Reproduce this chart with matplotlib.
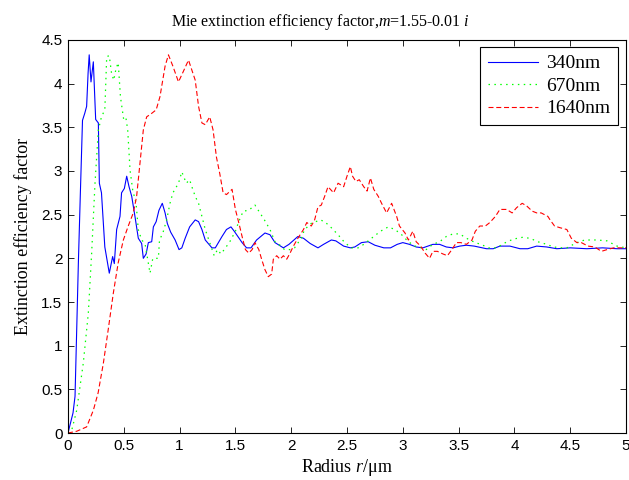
import matplotlib
matplotlib.use("Agg")
import matplotlib.pyplot as plt

# radius (um) and extinction efficiency
r_340 = [0, 0.045, 0.063, 0.078, 0.093, 0.11, 0.13, 0.15, 0.167, 0.18, 0.19, 0.206, 0.227,
         0.248, 0.272, 0.281, 0.30, 0.33, 0.37, 0.40, 0.415, 0.436, 0.466, 0.48, 0.505,
         0.526, 0.547, 0.571, 0.60, 0.63, 0.66, 0.675, 0.70, 0.72, 0.75, 0.765, 0.79,
         0.815, 0.845, 0.87, 0.89, 0.92, 0.96, 0.995, 1.02, 1.05, 1.09, 1.14, 1.17, 1.20,
         1.23, 1.29, 1.32, 1.38, 1.42, 1.46, 1.49, 1.56, 1.60, 1.64, 1.69, 1.765, 1.81,
         1.855, 1.93, 1.98, 2.06, 2.11, 2.17, 2.24, 2.29, 2.36, 2.40, 2.47, 2.53, 2.57,
         2.63, 2.69, 2.75, 2.83, 2.89, 2.95, 3.00, 3.06, 3.12, 3.18, 3.27, 3.33, 3.39,
         3.45, 3.51, 3.57, 3.64, 3.75, 3.81, 3.87, 3.96, 4.05, 4.12, 4.20, 4.29, 4.38,
         4.50, 4.65, 4.79, 4.92, 5.00]
q_340 = [0, 0.23, 0.42, 1.18, 1.95, 2.71, 3.58, 3.66, 3.74, 4.12, 4.33, 4.02, 4.25,
         3.59, 3.55, 2.86, 2.75, 2.13, 1.83, 2.02, 1.94, 2.33, 2.48, 2.75, 2.80,
         2.94, 2.82, 2.71, 2.48, 2.23, 2.17, 2.00, 2.05, 2.18, 2.19, 2.36, 2.42,
         2.55, 2.63, 2.52, 2.40, 2.30, 2.21, 2.10, 2.12, 2.23, 2.36, 2.44, 2.42, 2.33,
         2.21, 2.12, 2.12, 2.25, 2.33, 2.36, 2.31, 2.18, 2.12, 2.12, 2.21, 2.29, 2.27,
         2.18, 2.12, 2.16, 2.25, 2.23, 2.17, 2.12, 2.16, 2.21, 2.20, 2.14, 2.12, 2.13,
         2.18, 2.19, 2.15, 2.12, 2.12, 2.16, 2.18, 2.16, 2.13, 2.12, 2.16, 2.16, 2.13,
         2.12, 2.14, 2.15, 2.14, 2.11, 2.11, 2.14, 2.14, 2.11, 2.11, 2.14, 2.13, 2.11,
         2.12, 2.11, 2.12, 2.11, 2.11]

r_670 = [0, 0.033, 0.078, 0.137, 0.182, 0.212, 0.242, 0.272, 0.30, 0.33, 0.347, 0.37,
         0.39, 0.41, 0.43, 0.45, 0.47, 0.50, 0.52, 0.535, 0.556, 0.58, 0.61, 0.63, 0.66,
         0.69, 0.71, 0.735, 0.76, 0.81, 0.82, 0.85, 0.884, 0.914, 0.94, 0.99, 1.02, 1.06,
         1.09, 1.11, 1.14, 1.17, 1.20, 1.23, 1.27, 1.31, 1.34, 1.37, 1.40, 1.45, 1.50,
         1.53, 1.57, 1.62, 1.675, 1.72, 1.76, 1.81, 1.855, 1.90, 1.94, 1.99, 2.03, 2.09,
         2.12, 2.18, 2.26, 2.30, 2.36, 2.42, 2.48, 2.54, 2.60, 2.65, 2.72, 2.80, 2.87,
         2.93, 2.99, 3.05, 3.11, 3.17, 3.21, 3.27, 3.33, 3.39, 3.45, 3.51, 3.57, 3.65,
         3.70, 3.77, 3.84, 3.92, 3.99, 4.07, 4.14, 4.21, 4.29, 4.35, 4.42, 4.47, 4.56,
         4.63, 4.74, 4.83, 4.92, 5.00]
q_670 = [0, 0.03, 0.26, 0.80, 1.37, 2.06, 2.86, 3.47, 3.62, 3.70, 4.31, 4.32,
         4.12, 4.04, 4.17, 4.24, 3.85, 3.58, 3.60, 3.47, 3.01, 2.78, 2.63, 2.33, 2.21,
         2.17, 2.02, 1.83, 2.00, 2.00, 2.21, 2.29, 2.44, 2.63, 2.75, 2.86, 2.99, 2.86,
         2.90, 2.82, 2.71, 2.63, 2.48, 2.33, 2.18, 2.03, 2.10, 2.05, 2.10, 2.19, 2.31,
         2.42, 2.54, 2.55, 2.61, 2.52, 2.44, 2.33, 2.19, 2.15, 2.10, 2.10, 2.12, 2.23,
         2.33, 2.40, 2.44, 2.42, 2.35, 2.27, 2.18, 2.12, 2.12, 2.16, 2.23, 2.31, 2.36,
         2.33, 2.27, 2.19, 2.14, 2.12, 2.10, 2.16, 2.19, 2.25, 2.28, 2.28, 2.23, 2.18,
         2.16, 2.12, 2.12, 2.18, 2.22, 2.24, 2.23, 2.19, 2.16, 2.13, 2.12, 2.12, 2.18,
         2.21, 2.21, 2.20, 2.14, 2.12]

r_1640 = [0, 0.078, 0.167, 0.227, 0.27, 0.317, 0.36, 0.406, 0.45, 0.496, 0.54, 0.585,
          0.615, 0.645, 0.675, 0.705, 0.75, 0.79, 0.824, 0.87, 0.90, 0.94, 0.99, 1.03,
          1.08, 1.14, 1.17, 1.20, 1.23, 1.27, 1.30, 1.33, 1.36, 1.39, 1.42, 1.47, 1.50,
          1.53, 1.56, 1.59, 1.62, 1.65, 1.675, 1.71, 1.735, 1.765, 1.795, 1.825, 1.84,
          1.87, 1.90, 1.93, 1.96, 1.99, 2.02, 2.06, 2.11, 2.14, 2.18, 2.21, 2.24, 2.27,
          2.30, 2.33, 2.38, 2.42, 2.47, 2.50, 2.53, 2.55, 2.58, 2.61, 2.65, 2.68, 2.71,
          2.74, 2.78, 2.81, 2.855, 2.90, 2.945, 2.97, 3.02, 3.05, 3.09, 3.12, 3.16, 3.20,
          3.24, 3.27, 3.31, 3.36, 3.40, 3.44, 3.48, 3.52, 3.57, 3.62, 3.65, 3.69, 3.74,
          3.78, 3.83, 3.87, 3.93, 3.98, 4.02, 4.07, 4.11, 4.16, 4.20, 4.24, 4.30, 4.32,
          4.36, 4.41, 4.47, 4.51, 4.56, 4.60, 4.66, 4.72, 4.78, 4.83, 4.89, 4.96, 5.00]
q_1640 = [0, 0.02, 0.07, 0.26, 0.46, 0.80, 1.18, 1.60, 1.95, 2.21, 2.37, 2.52,
          2.71, 3.09, 3.47, 3.62, 3.66, 3.70, 3.85, 4.20, 4.33, 4.20, 4.02, 4.13,
          4.27, 4.04, 3.74, 3.55, 3.53, 3.62, 3.47, 3.16, 2.97, 2.75, 2.73, 2.79, 2.56,
          2.41, 2.25, 2.10, 2.06, 2.10, 2.18, 2.10, 1.99, 1.87, 1.79, 1.82, 1.99,
          2.03, 1.99, 2.03, 1.99, 2.06, 2.14, 2.23, 2.33, 2.41, 2.37, 2.44, 2.59, 2.61,
          2.71, 2.82, 2.75, 2.86, 2.82, 2.94, 3.05, 2.94, 2.88, 2.90, 2.82, 2.77, 2.92,
          2.79, 2.71, 2.63, 2.52, 2.63, 2.48, 2.37, 2.29, 2.21, 2.31, 2.19, 2.14, 2.06,
          2.00, 2.08, 2.08, 2.05, 2.03, 2.10, 2.18, 2.18, 2.16, 2.21, 2.31, 2.37, 2.37,
          2.41, 2.48, 2.56, 2.56, 2.52, 2.58, 2.63, 2.60, 2.54, 2.52, 2.52, 2.48, 2.44,
          2.37, 2.35, 2.33, 2.23, 2.18, 2.18, 2.14, 2.13, 2.08, 2.10, 2.12, 2.12, 2.12]

labels = ["340nm", "670nm", "1640nm"]
x_ticks = [0, 0.5, 1, 1.5, 2, 2.5, 3, 3.5, 4, 4.5, 5]
y_ticks = [0, 0.5, 1, 1.5, 2, 2.5, 3, 3.5, 4, 4.5]

serif = "Liberation Serif"
sans = "Liberation Sans"
plt.rcParams["mathtext.fontset"] = "custom"
plt.rcParams["mathtext.rm"] = serif
plt.rcParams["mathtext.it"] = serif + ":italic"

fig = plt.figure(figsize=(6.29, 4.8), dpi=100)
ax = fig.add_axes([0.1081, 0.0979, 0.8871, 0.8188])

ax.plot(r_340, q_340, color=(0, 0, 1), lw=0.8, label=labels[0])
ax.plot(r_670, q_670, color=(0, 1, 0), lw=0.9, dashes=(1.2, 3.5), label=labels[1])
ax.plot(r_1640, q_1640, color=(1, 0, 0), lw=0.8, dashes=(4.5, 2.5), label=labels[2])

ax.set_xlim(0, 5)
ax.set_ylim(0, 4.5)
ax.set_xticks(x_ticks)
ax.set_yticks(y_ticks)
ax.set_xticklabels([f"{t:g}" for t in x_ticks], fontfamily=sans, fontsize=11)
ax.set_yticklabels([f"{t:g}" for t in y_ticks], fontfamily=sans, fontsize=11)
ax.tick_params(direction="in", top=True, right=True, length=4, width=0.6, pad=4)
for s in ax.spines.values():
    s.set_linewidth(0.8)

# matlab put the title a bit left of centre
ax.set_title("Mie extinction efficiency factor,$m$=1.55-0.01 $i$",
             fontfamily=serif, fontsize=11.5, pad=10, x=0.453)
ax.set_xlabel("Radius $r$/\u03bcm", fontfamily=serif, fontsize=13, labelpad=3)
ax.set_ylabel("Extinction efficiency factor", fontfamily=serif, fontsize=13, labelpad=7)

leg = ax.legend(loc="upper right", bbox_to_anchor=(0.986, 0.982), borderaxespad=0,
                fancybox=False, edgecolor="black", framealpha=1, handlelength=2.6,
                handletextpad=0.4, borderpad=0.4, labelspacing=0.25,
                prop={"family": serif, "size": 14})
leg.get_frame().set_linewidth(0.8)

fig.savefig("out.png", dpi=100)
